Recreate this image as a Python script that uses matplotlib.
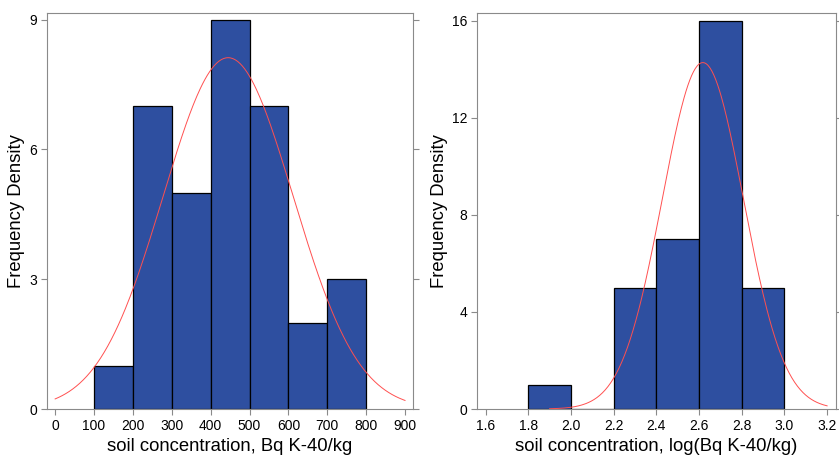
"""Histograms of K-40 soil concentration with fitted normal curves."""

import numpy as np
import matplotlib
matplotlib.use("Agg")
import matplotlib.pyplot as plt

plt.rcParams["font.family"] = ["Liberation Sans", "DejaVu Sans"]

# left panel: raw concentration
lin_edges = [100, 200, 300, 400, 500, 600, 700, 800]
lin_counts = [1, 7, 5, 9, 7, 2, 3]
lin_mean, lin_sd = 445.0, 167.0
lin_curve_range = (0, 900)
lin_xticks = [0, 100, 200, 300, 400, 500, 600, 700, 800, 900]
lin_yticks = [0, 3, 6, 9]

# right panel: log concentration
log_edges = [1.8, 2.0, 2.2, 2.4, 2.6, 2.8, 3.0]
log_counts = [1, 0, 5, 7, 16, 5]
log_mean, log_sd = 2.618, 0.19
log_curve_range = (1.9, 3.2)
log_xticks = [1.6, 1.8, 2.0, 2.2, 2.4, 2.6, 2.8, 3.0, 3.2]
log_yticks = [0, 4, 8, 12, 16]

BAR = "#2E4FA0"
SPINE = "#8a8a8a"


def normal_curve(lo, hi, mean, sd, n, width):
    x = np.linspace(lo, hi, 300)
    y = n * width / (sd * np.sqrt(2 * np.pi)) * np.exp(-0.5 * ((x - mean) / sd) ** 2)
    return x, y


def draw(ax, edges, counts, mean, sd, crange, xticks, yticks, xlim, ylim, xlabel, fmt):
    widths = np.diff(edges)
    ax.bar(edges[:-1], counts, width=widths, align="edge", color=BAR,
           edgecolor="black", linewidth=0.9, zorder=2)
    x, y = normal_curve(crange[0], crange[1], mean, sd, sum(counts), widths[0])
    ax.plot(x, y, color="#ff5050", linewidth=0.7, zorder=3)
    ax.set_xlim(*xlim)
    ax.set_ylim(*ylim)
    ax.set_xticks(xticks)
    ax.set_xticklabels([fmt(t) for t in xticks])
    ax.set_yticks(yticks)
    ax.set_xlabel(xlabel, fontsize=13.3, labelpad=4)
    ax.set_ylabel("Frequency Density", fontsize=13.3, labelpad=3)
    for s in ax.spines.values():
        s.set_color(SPINE)
    ax.tick_params(axis="both", labelsize=10, length=4, color=SPINE, pad=3)
    ax.tick_params(axis="y", right=True)


fig = plt.figure(figsize=(8.39, 4.57), dpi=100)
ax1 = fig.add_axes([0.056, 0.105, 0.436, 0.867])
ax2 = fig.add_axes([0.5685, 0.105, 0.428, 0.867])

draw(ax1, np.array(lin_edges, float), lin_counts, lin_mean, lin_sd, lin_curve_range,
     lin_xticks, lin_yticks, (-21, 920), (0, 9.16),
     "soil concentration, Bq K-40/kg", lambda t: f"{t:d}")
draw(ax2, np.array(log_edges, float), log_counts, log_mean, log_sd, log_curve_range,
     log_xticks, log_yticks, (1.56, 3.242), (0, 16.33),
     "soil concentration, log(Bq K-40/kg)", lambda t: f"{t:.1f}")

fig.savefig("out.png")
